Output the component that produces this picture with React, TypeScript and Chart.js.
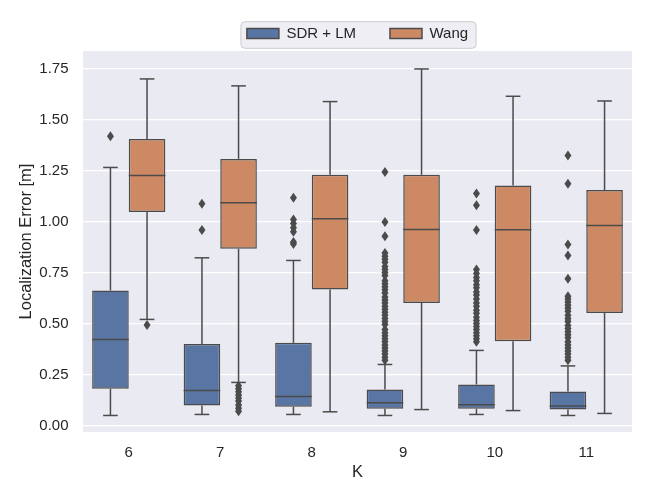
import { useEffect, useRef } from 'react'
import { Chart, registerables } from 'chart.js'

Chart.register(...registerables)

const K_LABELS = ['6', '7', '8', '9', '10', '11']
const Y_TICKS = [0, 0.25, 0.5, 0.75, 1.0, 1.25, 1.5, 1.75]

// SDR + LM box stats per K
const SDR_LO = [0.049, 0.054, 0.054, 0.049, 0.054, 0.049]
const SDR_Q1 = [0.180, 0.098, 0.092, 0.082, 0.082, 0.078]
const SDR_MED = [0.421, 0.172, 0.142, 0.111, 0.101, 0.095]
const SDR_Q3 = [0.662, 0.400, 0.405, 0.176, 0.201, 0.167]
const SDR_HI = [1.265, 0.822, 0.809, 0.299, 0.368, 0.292]

// Wang box stats per K
const WANG_LO = [0.520, 0.211, 0.067, 0.078, 0.073, 0.059]
const WANG_Q1 = [1.047, 0.866, 0.667, 0.601, 0.413, 0.552]
const WANG_MED = [1.225, 1.092, 1.013, 0.961, 0.959, 0.980]
const WANG_Q3 = [1.405, 1.307, 1.229, 1.229, 1.176, 1.154]
const WANG_HI = [1.699, 1.665, 1.588, 1.748, 1.614, 1.591]

const SDR_OUTLIERS = [
  [1.418],
  [1.087, 0.958],
  [1.116, 1.01, 0.99, 0.97, 0.95, 0.90, 0.89],
  [1.243, 0.998, 0.928, 0.846, 0.83, 0.815, 0.80, 0.78, 0.765, 0.75, 0.735, 0.71, 0.695, 0.68, 0.665, 0.65,
    0.63, 0.615, 0.60, 0.585, 0.57, 0.555, 0.54, 0.525, 0.51, 0.495, 0.47, 0.455, 0.44, 0.425, 0.41, 0.395,
    0.38, 0.365, 0.35, 0.335, 0.32],
  [1.137, 1.08, 0.958, 0.765, 0.745, 0.725, 0.71, 0.69, 0.675, 0.655, 0.64, 0.62, 0.60, 0.585, 0.565, 0.55,
    0.53, 0.515, 0.50, 0.485, 0.47, 0.455, 0.44, 0.425, 0.41],
  [1.324, 1.185, 0.887, 0.833, 0.719, 0.634, 0.62, 0.605, 0.59, 0.575, 0.56, 0.54, 0.525, 0.51, 0.49, 0.475,
    0.46, 0.445, 0.43, 0.41, 0.395, 0.38, 0.365, 0.35, 0.335, 0.32],
]
const WANG_OUTLIERS = [
  [0.492],
  [0.195, 0.18, 0.165, 0.15, 0.135, 0.12, 0.10, 0.085, 0.07],
  [],
  [],
  [],
  [],
]

const BLUE = '#5875a3'
const ORANGE = '#cc8963'
const LINE = '#4b4b4b'
const TEXT = '#262626'
const FONT = "'Liberation Sans', Arial, sans-serif"

// whiskers, caps, medians and fliers on top of the floating-bar boxes
const boxParts = {
  id: 'boxParts',
  beforeDraw(chart: any) {
    const { ctx, chartArea: a } = chart
    ctx.save()
    ctx.fillStyle = '#eaeaf2'
    ctx.fillRect(a.left, a.top, a.width, a.height)
    const lg = chart.legend
    if (lg && lg.lineWidths) {
      const pad = lg.options.labels.padding
      const start = (lg.left + lg.right + pad - lg.lineWidths[0]) / 2
      const end = start + lg.lineWidths[0] - pad
      const cy = lg.top + pad + 7.5
      ctx.beginPath()
      if (ctx.roundRect) ctx.roundRect(start - 6, cy - 11.8, end - start + 14, 26.6, 4)
      else ctx.rect(start - 6, cy - 11.8, end - start + 14, 26.6)
      ctx.fillStyle = '#eeeef4'
      ctx.fill()
      ctx.strokeStyle = '#cccccc'
      ctx.lineWidth = 1
      ctx.stroke()
    }
    ctx.restore()
  },
  afterDatasetsDraw(chart: any) {
    const { ctx } = chart
    const y = chart.scales.y
    const groups = [
      [SDR_LO, SDR_MED, SDR_HI, SDR_Q1, SDR_Q3, SDR_OUTLIERS],
      [WANG_LO, WANG_MED, WANG_HI, WANG_Q1, WANG_Q3, WANG_OUTLIERS],
    ] as any[]
    ctx.save()
    ctx.strokeStyle = LINE
    ctx.fillStyle = LINE
    ctx.lineWidth = 1.5
    const line = (x1: number, y1: number, x2: number, y2: number) => {
      ctx.beginPath()
      ctx.moveTo(x1, y1)
      ctx.lineTo(x2, y2)
      ctx.stroke()
    }
    groups.forEach(([lo, med, hi, q1, q3, fliers], d) => {
      const meta = chart.getDatasetMeta(d)
      meta.data.forEach((bar: any, i: number) => {
        const x = bar.x
        const w = bar.width
        const cap = w * 0.2
        line(x, y.getPixelForValue(q3[i]), x, y.getPixelForValue(hi[i]))
        line(x, y.getPixelForValue(q1[i]), x, y.getPixelForValue(lo[i]))
        line(x - cap, y.getPixelForValue(hi[i]), x + cap, y.getPixelForValue(hi[i]))
        line(x - cap, y.getPixelForValue(lo[i]), x + cap, y.getPixelForValue(lo[i]))
        line(x - w / 2, y.getPixelForValue(med[i]), x + w / 2, y.getPixelForValue(med[i]))
        fliers[i].forEach((v: number) => {
          const py = y.getPixelForValue(v)
          ctx.beginPath()
          ctx.moveTo(x, py - 5)
          ctx.lineTo(x + 3.5, py)
          ctx.lineTo(x, py + 5)
          ctx.lineTo(x - 3.5, py)
          ctx.closePath()
          ctx.fill()
        })
      })
    })
    ctx.restore()
  },
}

export default function App() {
  const canvasRef = useRef<HTMLCanvasElement>(null)

  useEffect(() => {
    document.body.style.margin = '0'
    if (!canvasRef.current) return

    const chart = new Chart(canvasRef.current, {
      type: 'bar',
      data: {
        labels: K_LABELS,
        datasets: [
          {
            label: 'SDR + LM',
            data: SDR_Q1.map((q, i) => [q, SDR_Q3[i]]),
            backgroundColor: BLUE,
            borderColor: LINE,
            borderWidth: 1.5,
            borderSkipped: false,
            categoryPercentage: 0.8,
            barPercentage: 1,
          },
          {
            label: 'Wang',
            data: WANG_Q1.map((q, i) => [q, WANG_Q3[i]]),
            backgroundColor: ORANGE,
            borderColor: LINE,
            borderWidth: 1.5,
            borderSkipped: false,
            categoryPercentage: 0.8,
            barPercentage: 1,
          },
        ],
      },
      options: {
        responsive: false,
        animation: false,
        layout: { padding: { top: -8, right: 18, bottom: 0, left: 0 } },
        plugins: {
          tooltip: { enabled: false },
          legend: {
            position: 'top',
            fullSize: false,
            labels: {
              boxWidth: 32,
              boxHeight: 10,
              padding: 34,
              color: TEXT,
              font: { family: FONT, size: 15 },
            },
          },
        },
        scales: {
          x: {
            grid: { display: false },
            border: { display: false },
            ticks: { color: TEXT, font: { family: FONT, size: 15 }, padding: 4 },
            title: { display: true, text: 'K', color: TEXT, font: { family: FONT, size: 16.5 }, padding: { top: 0, bottom: 17.5 } },
            afterFit: s => { s.height = 68 },
          },
          y: {
            min: -0.032,
            max: 1.836,
            afterBuildTicks: s => { s.ticks = Y_TICKS.map(v => ({ value: v })) },
            grid: { color: '#ffffff', lineWidth: 1.3, drawTicks: false },
            border: { display: false },
            ticks: {
              color: TEXT,
              font: { family: FONT, size: 15 },
              padding: 14.5,
              callback: v => Number(v).toFixed(2),
            },
            title: {
              display: true,
              text: 'Localization Error [m]',
              color: TEXT,
              font: { family: FONT, size: 16.5 },
              padding: { top: 16.4, bottom: 0 },
            },
            afterFit: s => { s.width = 83 },
          },
        },
      },
      plugins: [boxParts],
    })
    return () => chart.destroy()
  }, [])

  return <canvas ref={canvasRef} width={650} height={500} />
}
